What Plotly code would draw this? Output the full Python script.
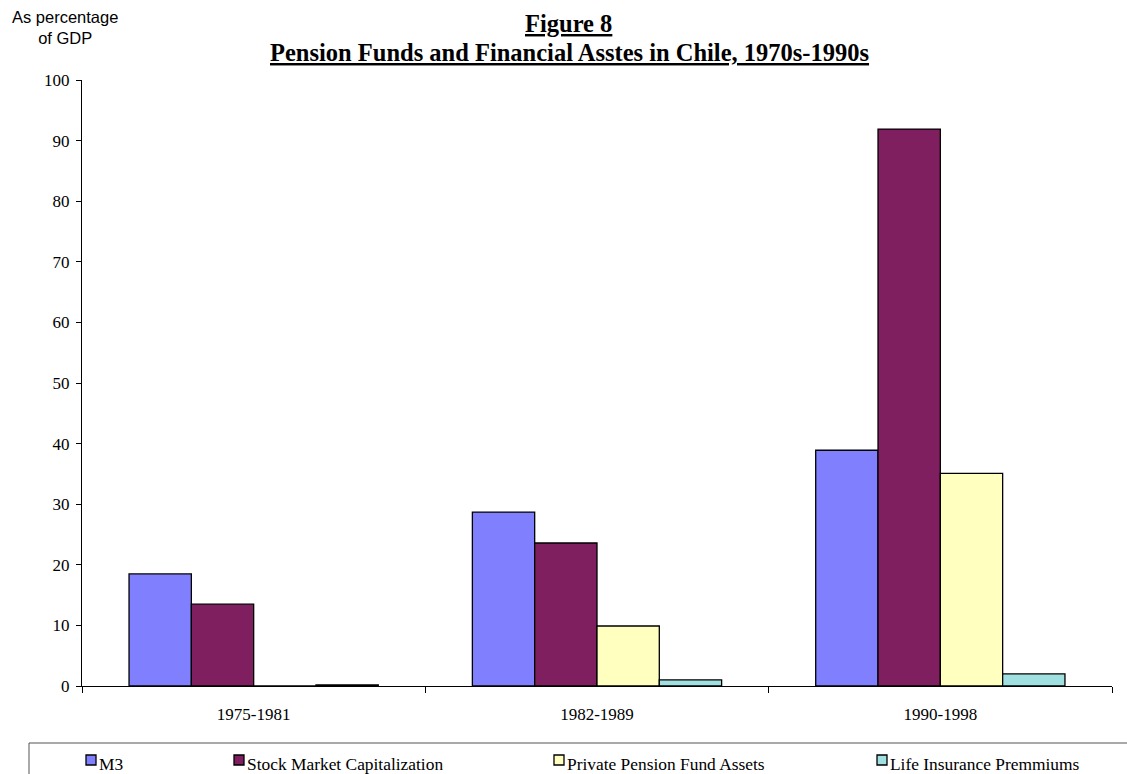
import plotly.graph_objects as go

# Periods and series (percent of GDP)
periods = ["1975-1981", "1982-1989", "1990-1998"]
series_names = ["M3", "Stock Market Capitalization",
                "Private Pension Fund Assets", "Life Insurance Premmiums"]
m3 = [18.5, 28.7, 38.9]
stock_cap = [13.5, 23.6, 91.9]
pension_assets = [0.0, 9.9, 35.1]
life_premiums = [0.2, 1.0, 2.0]
y_ticks = [0, 10, 20, 30, 40, 50, 60, 70, 80, 90, 100]

colors = ["#8080FF", "#801F5F", "#FFFFC0", "#A0E0E0"]
values = [m3, stock_cap, pension_assets, life_premiums]

W, H = 1127, 774
ML, MR, MT, MB = 82, 15, 80, 88
PW = W - ML - MR
PH = H - MT - MB


def px_x(x):
    return (x - ML) / PW


def px_y(y):
    return (H - MB - y) / PH


serif = "Liberation Serif, Times New Roman, serif"
sans = "Liberation Sans, Arial, sans-serif"

fig = go.Figure()
for name, vals, col in zip(series_names, values, colors):
    fig.add_trace(go.Bar(
        x=periods, y=vals, name=name,
        marker=dict(color=col, line=dict(color="#000000", width=1.3)),
        showlegend=False,
    ))

fig.update_layout(
    width=W, height=H,
    margin=dict(l=ML, r=MR, t=MT, b=MB),
    paper_bgcolor="white", plot_bgcolor="white",
    barmode="group", bargap=0.274, bargroupgap=0,
    font=dict(family=serif, size=17, color="black"),
    xaxis=dict(
        showline=True, linecolor="#000000", linewidth=1,
        ticks="outside", ticklen=6, tickcolor="#000000",
        tickson="boundaries", showgrid=False,
        ticklabelstandoff=13,
        tickfont=dict(family=serif, size=17),
    ),
    yaxis=dict(
        range=[0, 100], tickvals=y_ticks,
        showline=True, linecolor="#000000", linewidth=1,
        ticks="outside", ticklen=5, tickcolor="#000000",
        showgrid=False, zeroline=False,
        ticklabelstandoff=3,
        tickfont=dict(family=serif, size=17),
    ),
)

# Title lines and axis caption
fig.add_annotation(text="<b><u>Figure 8</u></b>", xref="paper", yref="paper",
                   x=px_x(568), y=px_y(24), showarrow=False,
                   font=dict(family=serif, size=24.5), xanchor="center", yanchor="middle")
fig.add_annotation(text="<b><u>Pension Funds and Financial Asstes in Chile, 1970s-1990s</u></b>",
                   xref="paper", yref="paper",
                   x=px_x(569), y=px_y(52), showarrow=False,
                   font=dict(family=serif, size=24.5), xanchor="center", yanchor="middle")
fig.add_annotation(text="As percentage<br>of GDP", xref="paper", yref="paper",
                   x=px_x(65), y=px_y(27), showarrow=False, align="center",
                   font=dict(family=sans, size=16.5), xanchor="center", yanchor="middle")

# Legend box along the bottom edge
fig.add_shape(type="rect", xref="paper", yref="paper",
              x0=px_x(29), x1=px_x(1140), y0=px_y(743), y1=px_y(800),
              line=dict(color="#555555", width=1), fillcolor="rgba(0,0,0,0)")
legend_x = [86, 234, 554, 877]
for name, col, lx in zip(series_names, colors, legend_x):
    fig.add_shape(type="rect", xref="paper", yref="paper",
                  x0=px_x(lx), x1=px_x(lx + 10), y0=px_y(755), y1=px_y(765),
                  line=dict(color="#000000", width=1.3), fillcolor=col)
    fig.add_annotation(text=name, xref="paper", yref="paper",
                       x=px_x(lx + 11), y=px_y(764), showarrow=False,
                       xanchor="left", yanchor="middle",
                       font=dict(family=serif, size=17.4))

fig.write_html("out.html")
